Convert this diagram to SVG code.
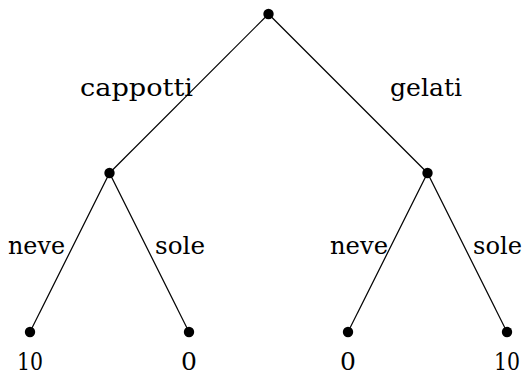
<svg xmlns="http://www.w3.org/2000/svg" width="525" height="375" viewBox="0 0 525 375">
<style>
.e{stroke:#000;stroke-width:1.2;fill:none}
.n{fill:#000}
text{font-family:'DejaVu Serif','Liberation Serif',serif;font-size:25px;fill:#000}
.m{text-anchor:middle}
.r{text-anchor:end}
</style>
<rect width="525" height="375" fill="#fff"/>
<g id="edges">
<line class="e" x1="268.5" y1="14" x2="109.5" y2="173"/>
<line class="e" x1="268.5" y1="14" x2="427.5" y2="173"/>
<line class="e" x1="109.5" y1="173" x2="30" y2="332"/>
<line class="e" x1="109.5" y1="173" x2="189" y2="332"/>
<line class="e" x1="427.5" y1="173" x2="348" y2="332"/>
<line class="e" x1="427.5" y1="173" x2="507" y2="332"/>
<text x="80" y="96" textLength="113" lengthAdjust="spacingAndGlyphs">cappotti</text>
<text x="390" y="96" textLength="72" lengthAdjust="spacingAndGlyphs">gelati</text>
<text x="8" y="254" textLength="57" lengthAdjust="spacingAndGlyphs">neve</text>
<text x="155" y="254" textLength="50" lengthAdjust="spacingAndGlyphs">sole</text>
<text x="330" y="254" textLength="58" lengthAdjust="spacingAndGlyphs">neve</text>
<text x="473" y="254" textLength="49" lengthAdjust="spacingAndGlyphs">sole</text>
</g>
<g id="root"><circle class="n" cx="268.5" cy="14" r="5.2"/></g>
<g id="n-cappotti"><circle class="n" cx="109.5" cy="173" r="5.2"/></g>
<g id="n-gelati"><circle class="n" cx="427.5" cy="173" r="5.2"/></g>
<g id="leaf1"><circle class="n" cx="30" cy="332" r="5.2"/><text x="17" y="370" textLength="26" lengthAdjust="spacingAndGlyphs">10</text></g>
<g id="leaf2"><circle class="n" cx="189" cy="332" r="5.2"/><text class="m" x="189" y="370">0</text></g>
<g id="leaf3"><circle class="n" cx="348" cy="332" r="5.2"/><text class="m" x="348" y="370">0</text></g>
<g id="leaf4"><circle class="n" cx="507" cy="332" r="5.2"/><text x="494" y="370" textLength="26" lengthAdjust="spacingAndGlyphs">10</text></g>
</svg>
